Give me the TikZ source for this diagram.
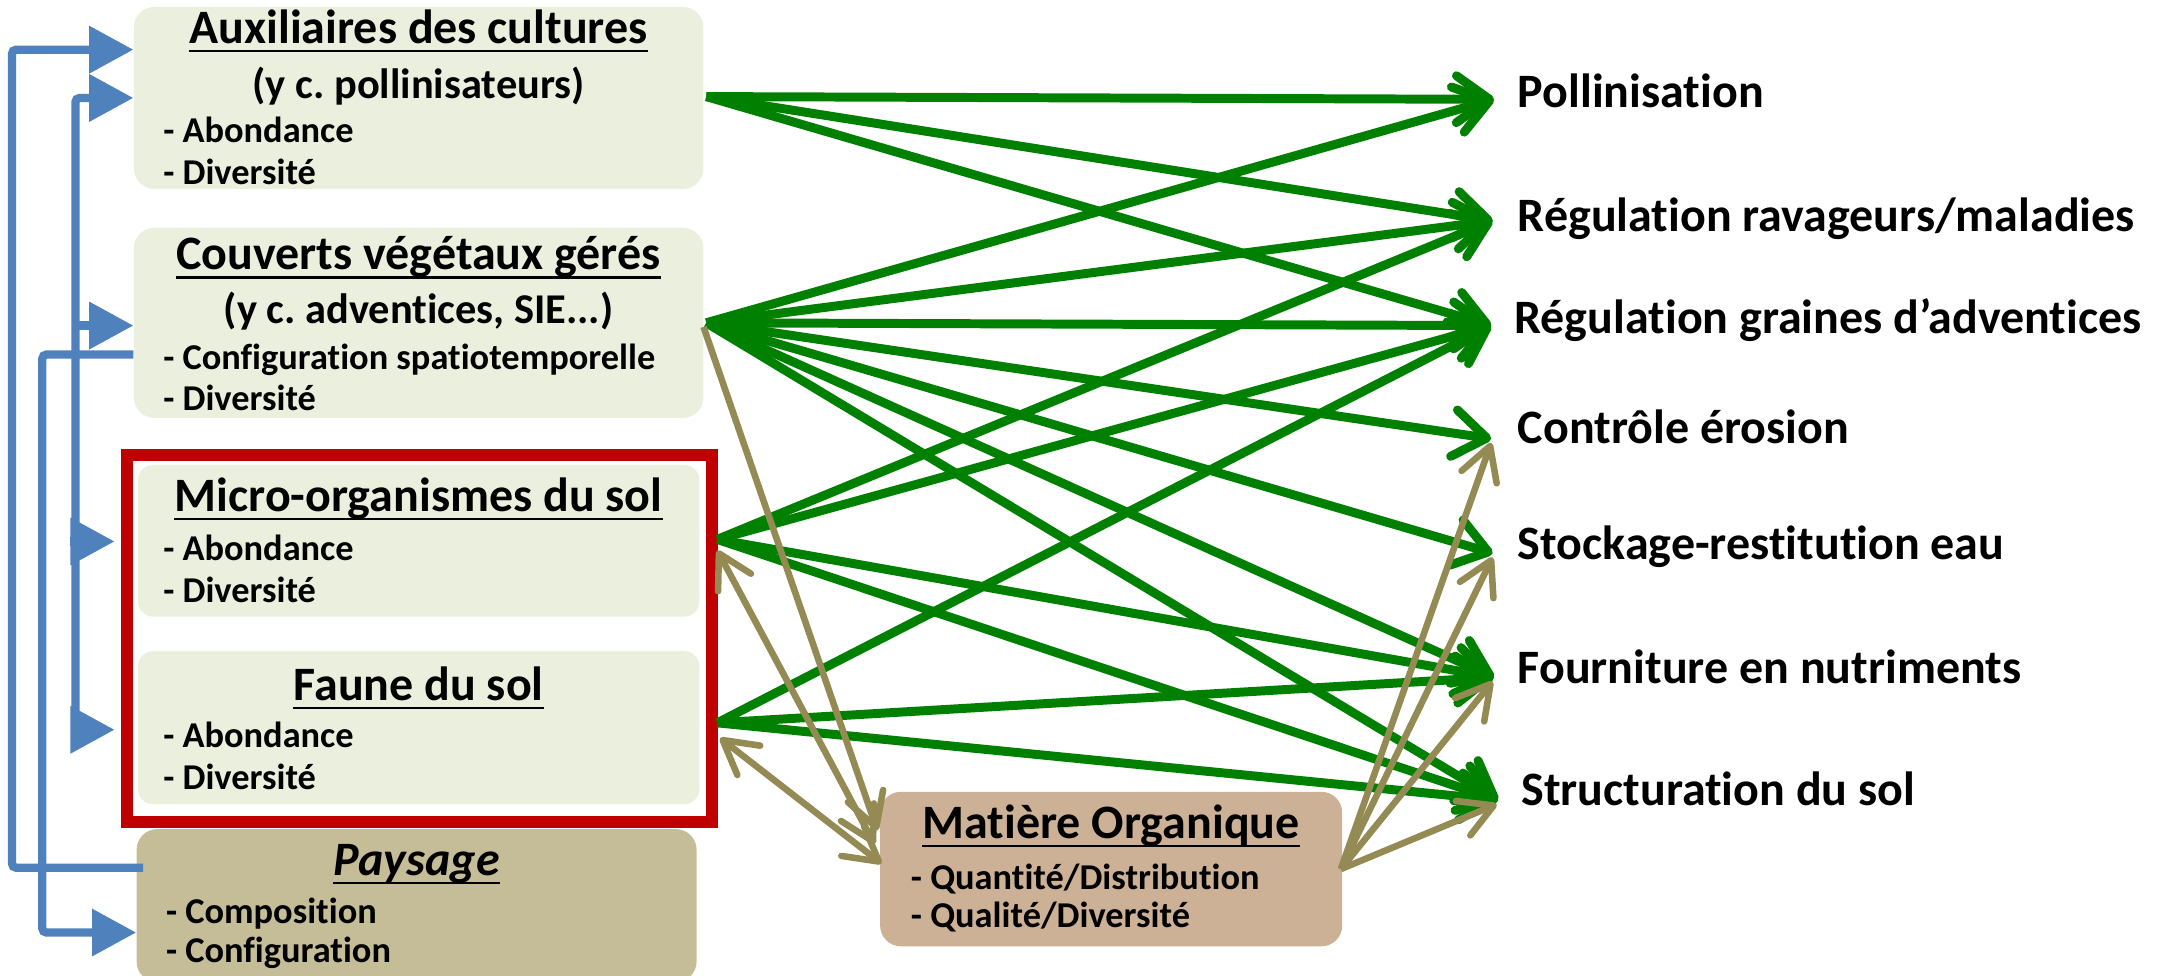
\documentclass[tikz,border=0pt]{standalone}
\usepackage{fontspec}
\setmainfont{Carlito}[Ligatures=NoCommon]
\usetikzlibrary{arrows.meta,calc}
\definecolor{boxg}{HTML}{EBF0DE}
\definecolor{paysc}{HTML}{C4BD97}
\definecolor{moc}{HTML}{CDB196}
\definecolor{redf}{HTML}{C00000}
\definecolor{gre}{HTML}{008000}
\definecolor{tanc}{HTML}{948A54}
\definecolor{blu}{HTML}{4F81BD}
\frenchspacing
\begin{document}
\begin{tikzpicture}[x=0.02cm,y=-0.02cm,
  bx/.style={rounded corners=0.3cm, inner sep=0pt, draw=none},
  ttl/.style={font=\fontsize{19.8}{22}\selectfont\bfseries, inner sep=0pt, anchor=base},
  subt/.style={font=\fontsize{17.5}{20}\selectfont\bfseries, inner sep=0pt, anchor=base},
  itm/.style={font=\fontsize{15}{18}\selectfont\bfseries, inner sep=0pt, anchor=base west},
  lab/.style={font=\fontsize{19.8}{22}\selectfont\bfseries, inner sep=0pt, anchor=base west},
  uln/.style={line width=0.9pt, black},
  garr/.style={draw=gre, line width=0.13cm, -{Straight Barb[length=0.48cm,width=0.68cm,round]}},
  tarr/.style={draw=tanc, line width=0.095cm, -{Straight Barb[length=0.48cm,width=0.54cm,round]}},
  tarrb/.style={draw=tanc, line width=0.095cm, {Straight Barb[length=0.48cm,width=0.54cm,round]}-{Straight Barb[length=0.48cm,width=0.54cm,round]}},
  barr/.style={draw=blu, line width=0.12cm, rounded corners=0.06cm, -{Triangle[length=0.64cm,width=0.66cm]}},
  barrb/.style={draw=blu, line width=0.12cm, rounded corners=0.06cm, {Triangle[length=0.64cm,width=0.66cm]}-{Triangle[length=0.64cm,width=0.66cm]}},
  ]
\useasboundingbox (0,0) rectangle (1568,707);

% ---------- boxes ----------
\node[bx, fill=boxg, minimum width=8.26cm, minimum height=2.64cm] (aux) at (303.5,71) {};
\node[bx, fill=boxg, minimum width=8.26cm, minimum height=2.76cm] (cov) at (303.5,234) {};
\node[bx, fill=boxg, rounded corners=0.22cm, minimum width=8.14cm, minimum height=2.2cm] (mic) at (303.5,392) {};
\node[bx, fill=boxg, rounded corners=0.22cm, minimum width=8.14cm, minimum height=2.22cm] (fau) at (303.5,527.5) {};
\node[draw=redf, line width=0.18cm, inner sep=0pt, minimum width=8.48cm, minimum height=5.32cm] (frame) at (304,463) {};
\node[bx, fill=paysc, minimum width=8.12cm, minimum height=2.22cm] (pay) at (302,656.5) {};
\node[bx, fill=moc, minimum width=6.7cm, minimum height=2.24cm] (mo) at (805.5,630) {};

% ---------- box texts ----------
\node[ttl] (auxT) at (303.5,31.7) {Auxiliaires des cultures};
\node[subt] (auxS) at (303.5,71.7) {(y c. pollinisateurs)};
\node[itm] (auxI1) at (118,103.6) {- Abondance};
\node[itm] (auxI2) at (118,133.6) {- Diversité};

\node[ttl] (covT) at (303.5,195.7) {Couverts végétaux gérés};
\node[subt] (covS) at (303.5,234.7) {(y c. adventices, SIE...)};
\node[itm] (covI1) at (118,267.6) {- Configuration spatiotemporelle};
\node[itm] (covI2) at (118,297.6) {- Diversité};

\node[ttl] (micT) at (303.5,371) {Micro-organismes du sol};
\node[itm] (micI1) at (118,406.6) {- Abondance};
\node[itm] (micI2) at (118,437) {- Diversité};

\node[ttl] (fauT) at (303.5,507.7) {Faune du sol};
\node[itm] (fauI1) at (118,541.6) {- Abondance};
\node[itm] (fauI2) at (118,572) {- Diversité};

\node[ttl, font=\fontsize{19.8}{22}\selectfont\bfseries\itshape] (payT) at (302,634.7) {Paysage};
\node[itm] (payI1) at (120,669.6) {- Composition};
\node[itm] (payI2) at (120,697.6) {- Configuration};

\node[ttl] (moT) at (805.5,608) {Matière Organique};
\node[itm] (moI1) at (660,644.6) {- Quantité/Distribution};
\node[itm] (moI2) at (660,672) {- Qualité/Diversité};

\foreach \n in {auxT,covT,micT,fauT,payT,moT}
  \draw[uln] ($(\n.base west)+(0,5.5)$) -- ($(\n.base east)+(0,5.5)$);

% ---------- service labels ----------
\node[lab] (lP) at (1100,77.7) {Pollinisation};
\node[lab] (lR1) at (1100,168) {Régulation ravageurs/maladies};
\node[lab] (lR2) at (1097.5,241.7) {Régulation graines d’adventices};
\node[lab] (lC) at (1100,321.7) {Contrôle érosion};
\node[lab] (lSt) at (1100,405.7) {Stockage-restitution eau};
\node[lab] (lF) at (1100,495.7) {Fourniture en nutriments};
\node[lab] (lS) at (1102.5,583.7) {Structuration du sol};

% ---------- connector end points ----------
\coordinate (auxO) at (512,70);
\coordinate (covO) at (512,234);
\coordinate (covU) at (510,237);
\coordinate (micO) at (520,391);
\coordinate (micU) at (520,399);
\coordinate (fauO) at (520,524);
\coordinate (fauU) at (522,535);
\coordinate (moO) at (972,630);
\coordinate (moA) at (636,602);
\coordinate (moB) at (634,612);
\coordinate (moC) at (639,626);
\coordinate (tP) at (1083,72);
\coordinate (tR1) at (1082,160);
\coordinate (tR2) at (1081,236);
\coordinate (tC) at (1081,318);
\coordinate (tSt) at (1082,401);
\coordinate (tF) at (1083,491);
\coordinate (tS) at (1086,580);
\coordinate (uC) at (1081,321);
\coordinate (uSt) at (1082,404);
\coordinate (uF) at (1082,494);
\coordinate (uS) at (1085,583);

% ---------- green arrows ----------
\foreach \t in {tP,tR1,tR2} \draw[garr] (auxO) -- (\t);
\foreach \t in {tP,tR1,tR2,tC,tSt,tF,tS} \draw[garr] (covO) -- (\t);
\foreach \t in {tR1,tR2,tF,tS} \draw[garr] (micO) -- (\t);
\foreach \t in {tR2,tF,tS} \draw[garr] (fauO) -- (\t);

% ---------- tan arrows ----------
\draw[tarr] (covU) -- (moA);
\draw[tarrb] (micU) -- (moB);
\draw[tarrb] (fauU) -- (moC);
\foreach \t in {uC,uSt,uF,uS} \draw[tarr] (moO) -- (\t);

% ---------- blue arrows ----------
\draw[barr] ($(pay.west)+(5,-27.5)$) -| ($(aux.west)+(-88,-35)$) -- ($(aux.west)+(0,-35)$);
\draw[barr] ($(cov.west)+(0,23)$) -| ($(pay.west)+(-68,19.5)$) -- ($(pay.west)+(0,19.5)$);
\draw[barrb] (aux.west) -- ++(-42,0) |- ($(frame.west)+(-4.5,66)$);
\draw[barr] ($(cov.west)+(-42,2)$) -- ($(cov.west)+(0,2)$);
\draw[barr] ($(frame.west)+(-37,-70.5)$) -- ($(frame.west)+(-4.5,-70.5)$);
\end{tikzpicture}
\end{document}
